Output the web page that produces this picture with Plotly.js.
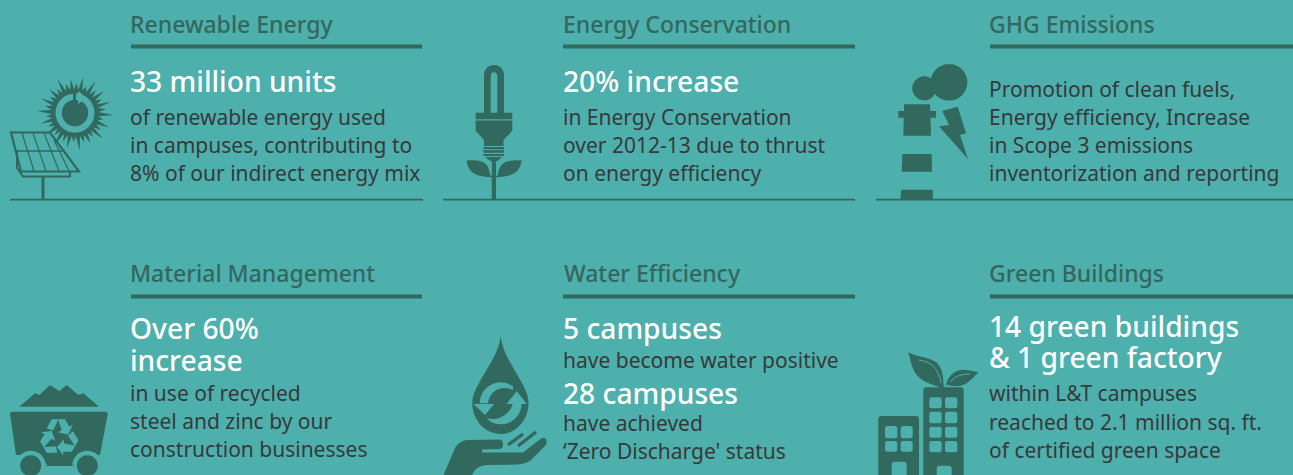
<!DOCTYPE html>
<html><head><meta charset="utf-8">
<script src="https://cdn.plot.ly/plotly-3.0.1.min.js"></script>
<style>html,body{margin:0;padding:0;background:#4DB0AC;overflow:hidden}#c{width:1293px;height:475px}</style>
</head><body><div id="c"></div>
<script>
// Text content of the six panels
const panelTitles = ["Renewable Energy","Energy Conservation","GHG Emissions","Material Management","Water Efficiency","Green Buildings"];
const renewableLines = ["33 million units","of renewable energy used","in campuses, contributing to","8% of our indirect energy mix"];
const conservationLines = ["20% increase","in Energy Conservation","over 2012-13 due to thrust","on energy efficiency"];
const ghgLines = ["Promotion of clean fuels,","Energy efficiency, Increase","in Scope 3 emissions","inventorization and reporting"];
const materialLines = ["Over 60%","increase","in use of recycled","steel and zinc by our","construction businesses"];
const waterLines = ["5 campuses","have become water positive","28 campuses","have achieved","‘Zero Discharge' status"];
const greenLines = ["14 green buildings","& 1 green factory","within L&T campuses","reached to 2.1 million sq. ft.","of certified green space"];

const BG="#4DB0AC", DARK="#31695F", TITLE="#33675F", BODY="#38393B", FONT="Noto Sans";
const ann=[], sh=[];
function txt(s,x,y,size,color,weight){ann.push({text:s,x:x,y:y,xref:"x",yref:"y",xanchor:"left",yanchor:"middle",showarrow:false,align:"left",font:{family:FONT,size:size,color:color,weight:weight||400},borderpad:0});}
function fill(p,c){sh.push({type:"path",path:p,xref:"x",yref:"y",fillcolor:c||DARK,line:{width:0},layer:"above"});}
function stroke(p,w,c){sh.push({type:"path",path:p,xref:"x",yref:"y",fillcolor:"rgba(0,0,0,0)",line:{width:w,color:c||DARK},layer:"above"});}
function arc(cx,cy,r,a0,a1){ // cubic segments from angle a0 to a1 (degrees, screen coordinates)
  const n=Math.max(1,Math.ceil(Math.abs(a1-a0)/60)),st=(a1-a0)/n*Math.PI/180,k=4/3*Math.tan(st/4);let s="";
  let a=a0*Math.PI/180;
  for(let i=0;i<n;i++){const b=a+st;
    const x1=cx+r*(Math.cos(a)-k*Math.sin(a)),y1=cy+r*(Math.sin(a)+k*Math.cos(a));
    const x2=cx+r*(Math.cos(b)+k*Math.sin(b)),y2=cy+r*(Math.sin(b)-k*Math.cos(b));
    s+=`C${x1.toFixed(2)},${y1.toFixed(2)} ${x2.toFixed(2)},${y2.toFixed(2)} ${(cx+r*Math.cos(b)).toFixed(2)},${(cy+r*Math.sin(b)).toFixed(2)}`;a=b;}
  return s;}
function pt(cx,cy,r,a){return (cx+r*Math.cos(a*Math.PI/180)).toFixed(2)+","+(cy+r*Math.sin(a*Math.PI/180)).toFixed(2);}
function circ(cx,cy,r,c){fill("M"+pt(cx,cy,r,0)+arc(cx,cy,r,0,360)+"Z",c);}
function poly(pts,c){fill("M"+pts.map(p=>p.join(",")).join("L")+"Z",c);}
function rr(x0,y0,x1,y1,r,c){fill(`M${x0+r},${y0}L${x1-r},${y0}Q${x1},${y0} ${x1},${y0+r}L${x1},${y1-r}Q${x1},${y1} ${x1-r},${y1}L${x0+r},${y1}Q${x0},${y1} ${x0},${y1-r}L${x0},${y0+r}Q${x0},${y0} ${x0+r},${y0}Z`,c);}

// ---- layout of text
const HL=28.2, BD=21, TT=23;
const tx=[128.5,561.5,987.5];
const all=[renewableLines,conservationLines,ghgLines,materialLines,waterLines,greenLines];
panelTitles.forEach((t,i)=>txt(t,tx[i%3]+(i==4?1:0),(i<3?25:274)-1,TT,TITLE,500));
const ys=[
 [[82,HL],[118,BD],[146,BD],[174,BD]],
 [[82,HL],[118,BD],[146,BD],[174,BD]],
 [[90,BD],[118,BD],[146,BD],[174,BD]],
 [[329,HL],[361,HL],[394,BD],[422,BD],[450,BD]],
 [[329,HL],[361,BD],[394,HL],[424,BD],[452,BD]],
 [[327,HL],[358,HL],[394,BD],[423,BD],[451,BD]]];
all.forEach((lines,i)=>lines.forEach((l,j)=>{
  const big=ys[i][j][1]===HL;
  txt(l,tx[i%3]+(big?0:.5),ys[i][j][0]-.7,ys[i][j][1],big?"#FFFFFF":BODY,big?500:400);
}));

// ---- rules
[[131,422],[563,855],[990,1293]].forEach(r=>[46.5,296.5].forEach(y=>
  sh.push({type:"rect",x0:r[0],x1:r[1],y0:y-2,y1:y+2,xref:"x",yref:"y",fillcolor:DARK,line:{width:0},layer:"above"})));
[[10,423],[443,855],[876,1293]].forEach(r=>
  sh.push({type:"rect",x0:r[0],x1:r[1],y0:198.7,y1:200.6,xref:"x",yref:"y",fillcolor:DARK,line:{width:0},layer:"above"}));

// ---- solar icon
stroke("M43,177L43,199",3);
stroke("M17,150L17,168L23,176.5L70,176.5L70,171",2);
stroke("M11,132.5L50,132.5L79,171.5L21,171.5Z",2.2);
stroke("M16,151L65,151",1.4);
stroke("M22,133L34,171",1.2);stroke("M33,133L46,171",1.2);stroke("M44,133L59,171",1.2);stroke("M54,140L69,171",1.2);
// sun
const sunR=[38,29,37,31,38,30,34,31,38,29,36,31,38,30,37,30,36,29,38,31,37,30,35,30,38,31,34,30,37,29,38,31,36,30,37,31];
(function(){const cx=75,cy=113,n=sunR.length;let p=[];
 for(let i=0;i<n;i++){const a=i/n*2*Math.PI+.05;const a2=(i+.5)/n*2*Math.PI+.05;
  p.push([cx+sunR[i]*Math.cos(a),cy+sunR[i]*Math.sin(a)]);p.push([cx+23.5*Math.cos(a2),cy+23.5*Math.sin(a2)]);}
 poly(p);})();
circ(75,113,19.5,BG);circ(75,113,13.2);
poly([[73,93],[76,92.8],[76,99.8],[73,100]]);
poly([[76,96],[79,91],[86,98.5],[78,104],[78,100]],BG);

// ---- bulb icon
fill("M484,113L484,75"+arc(494,75,10,180,360)+"L504,113L497.3,113L497.3,75.5"+arc(494,75.5,3.3,360,180)+"L490.7,113Z");
poly([[475.7,112.7],[512.3,112.7],[512.3,119.3],[475.7,119.3]]);
poly([[475.7,120.5],[512.3,120.5],[512.3,130.7],[503.5,140],[503.5,146],[484,146],[484,140],[475.7,130.7]]);
[[147,149.3],[150.3,152.8],[154,156]].forEach(v=>poly([[483.5,v[0]],[504,v[0]],[504,v[1]],[483.5,v[1]]]));
poly([[485,157],[502,157],[497.5,161],[490.5,161]]);
poly([[491.8,160],[496,160],[496,199],[491.8,199]]);
fill("M466.5,160.5C476,159.5 486,161 488,167C490,172 490,174 490,177C482,177 474,175 470,170C468,167 467,164 466.5,160.5Z");
fill("M521.8,160.5C512,159.5 503,161 500,167C498,172 498,174 498,177C506,177 514,175 518,170C520,167 521,164 521.8,160.5Z");
stroke("M488,174L492,177.5",1.5);stroke("M500,174L496,177.5",1.5);

// ---- GHG icon
circ(949,82.3,18.3);circ(924.3,88.3,12);
poly([[904,104.3],[930,104.3],[930.3,111],[936,111],[936,117.7],[930.5,117.7],[931,135.7],[903.3,135.7],[903.8,117.7],[898.3,117.7],[898.3,111],[904,111]]);
poly([[902.3,154],[931.7,154],[932,171.7],[901.7,171.7]]);
poly([[901,189.7],[932.7,189.7],[933,200],[900.7,200]]);
poly([[942.3,111],[957.7,106.7],[966,133.3],[960,135],[968,159],[939,126.3],[949,125]]);

// ---- cart icon
poly([[19.3,406.7],[35,393.3],[39.3,395],[50,385],[59.3,391],[66.7,385],[78.3,395],[83.3,393.3],[99,406.7]]);
fill("M12,411.7L106,411.7Q108,411.7 107.7,414L100,455L85,455L75,465.7L48.3,465.7L38,455L16,455L10,414Q10,411.7 12,411.7Z");
circ(30.7,465.7,15,BG);circ(87.3,465.7,15,BG);
poly([[46,465],[72,465],[75,466],[45,466]]);
circ(30.7,465.7,10.5);circ(87.3,465.7,10.5);
// recycle symbol: three chasing arrows
(function(){const cx=59,cy=437.5;
 const base=[[-12.3,-9],[-7.3,-18.3],[-.5,-18.3],[-6,-7]];
 const head=[[-1,-18.3],[6,-18.3],[10.3,-10.7],[13.7,-13],[9.3,-3],[-.7,-5],[2.7,-7.5]];
 [0,120,240].forEach(d=>{const t=d*Math.PI/180,c=Math.cos(t),s=Math.sin(t);
  const r=p=>[cx+p[0]*c-p[1]*s,cy+p[0]*s+p[1]*c];
  poly(base.map(r),BG);poly(head.map(r),BG);});})();

// ---- water icon
fill("M500.7,335.7C502,350 510,362 518,376C525,388 528.5,395 528.5,403C528.5,420 516,434 500.7,434C485,434 472.3,420 472.3,403C472.3,395 476,388 483,376C491,362 499.5,350 500.7,335.7Z");
fill("M513,386.5"+arc(500.7,403.3,21,-54,-180)+"L488,403.3C489,392 500,384 513,390Z",BG);
poly([[473.5,404],[494.3,404],[485,415]],BG);
fill("M521.7,403.3"+arc(500.7,403.3,21,0,122)+"L487,418C497,422 510,415 513,403.3Z",BG);
poly([[506.7,404],[526.7,404],[516.7,391]],BG);
fill("M443.5,475L455,448C458,443 463,440 468,440L500,439.5C504,440 504,449 500,449L482,449.5L482,452.5L523,452.5L541,438.5C545,436 548,441 546,445L530,461C527,463 522,464 518,464.5L490,465C482,465 478,467 475,470L472,475Z");
stroke("M508,445L523,434",3.4);stroke("M518,446L536,432",3.4);

// ---- buildings icon
rr(878.3,416,919,480,3);
[[885,897.3],[900.7,912.7]].forEach(c=>[[426,438.3],[441,451.7]].forEach(r=>rr(c[0],r[0],c[1],r[1],2.5,BG)));
rr(891.7,461.7,906.7,480,3,BG);
rr(923.3,387.3,963.7,480,3);
[[929.3,941.7],[945,957.3]].forEach(c=>[[397.3,408.3],[411.7,423.3],[426.7,437.7],[441,452.3]].forEach(r=>rr(c[0],r[0],c[1],r[1],2.5,BG)));
rr(936.7,465.7,951.7,480,3,BG);
fill("M908.3,352.3C918,358 932,357 938,364C943,370 943.5,380 943.5,388L941.5,388C932,384 920,382 914,371C911,365 910,358 908.3,352.3Z");
stroke("M919,360C930,362 938,366 941,383",1,BG);
fill("M978.5,372.3C972,379 966,386 958,386C952,387 948,384 945,385L945,388C947,378 952,372 960,370C966,369 972,371 978.5,372.3Z");
stroke("M950,382C955,376 962,374 970,374",1,BG);
stroke("M942.5,384L942.5,388",2);

Plotly.newPlot("c",[{x:[0],y:[0],mode:"markers",marker:{opacity:0},hoverinfo:"skip",showlegend:false}],{
 width:1293,height:475,margin:{l:0,r:0,t:0,b:0,pad:0},paper_bgcolor:BG,plot_bgcolor:BG,showlegend:false,
 xaxis:{range:[0,1293],visible:false,fixedrange:true},
 yaxis:{range:[475,0],visible:false,fixedrange:true},
 shapes:sh,annotations:ann
},{displayModeBar:false,staticPlot:true});
</script></body></html>
